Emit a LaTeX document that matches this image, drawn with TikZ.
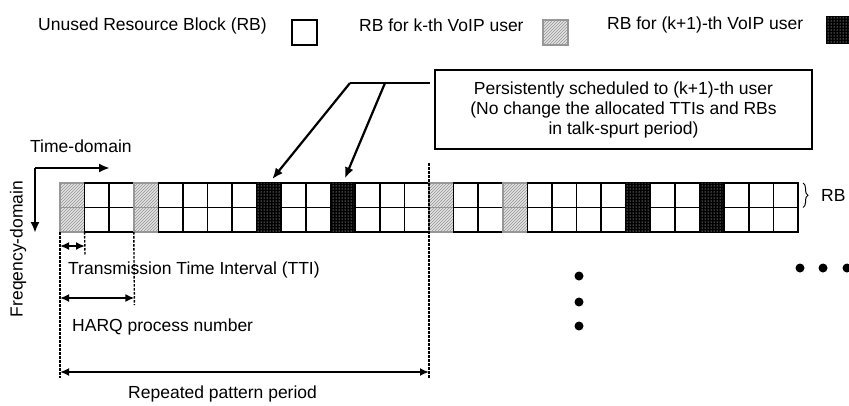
\documentclass[tikz,border=0pt]{standalone}
\usepackage{fontspec}
\setmainfont{Liberation Sans}
\usetikzlibrary{patterns,arrows.meta,decorations.pathreplacing}
\tikzset{
  ucell/.style={draw=black, fill=white, line width=1.6pt, minimum width=24.6pt, minimum height=24.5pt, inner sep=0pt, outer sep=0pt, anchor=north west},
  kcell/.style={ucell, draw=gray!80, fill=gray!22, postaction={pattern=north east lines, pattern color=gray!85}},
  bcell/.style={ucell, fill=black, postaction={pattern=dots, pattern color=white}},
  lbl/.style={inner sep=0pt, anchor=west},
  arr/.style={-{Latex[length=11pt,width=9pt]}, line width=2.2pt},
  darr/.style={{Latex[length=9pt,width=8pt]}-{Latex[length=9pt,width=8pt]}, line width=2.2pt},
  dline/.style={line width=1.4pt, dash pattern=on 2.5pt off 1.5pt},
  dot/.style={circle, fill=black, inner sep=0pt, minimum size=9pt},
}
\begin{document}
\begin{tikzpicture}[x=1pt, y=-1pt, font=\fontsize{17.5}{20}\selectfont]
\useasboundingbox (0,0) rectangle (849,405);
% legend
\node[lbl] (lg1) at (38,26) {Unused Resource Block (RB)};
\node[ucell, line width=1.4pt, minimum width=25pt, minimum height=25pt] (lb1) at (292,20) {};
\node[lbl] (lg2) at (359,25) {RB for k-th VoIP user};
\node[kcell, line width=1.2pt, minimum width=25pt, minimum height=25pt] (lb2) at (543,20) {};
\node[lbl] (lg3) at (607,25) {RB for (k+1)-th VoIP user};
\node[bcell, line width=1.2pt, minimum width=25pt, minimum height=26pt] (lb3) at (827,17) {};
% grid
\foreach \i/\s in {0/kcell,1/ucell,2/ucell,3/kcell,4/ucell,5/ucell,6/ucell,7/ucell,8/bcell,9/ucell,10/ucell,11/bcell,12/ucell,13/ucell,14/ucell,
                   15/kcell,16/ucell,17/ucell,18/kcell,19/ucell,20/ucell,21/ucell,22/ucell,23/bcell,24/ucell,25/ucell,26/bcell,27/ucell,28/ucell,29/ucell}{
  \node[\s] (t\i) at ({60+24.6*\i},183) {};
  \node[\s] (b\i) at ({60+24.6*\i},207.5) {};
}
% brace
\draw[decorate, decoration={brace, amplitude=5pt}, line width=1pt] ([xshift=5pt]t29.north east) -- ([xshift=5pt]t29.south east) coordinate[midway, xshift=6pt] (brm);
\node[lbl] (rb) at (821,195) {RB};
% axes
\coordinate (tdc) at (35,168);
\coordinate (tde) at (110,168);
\coordinate (fde) at (35,233);
\draw[arr] (tdc) -- (tde);
\draw[arr] (tdc) -- (fde);
\node[lbl] (td) at (30,146) {Time-domain};
\node[inner sep=0pt, rotate=90] (fd) at (18,249) {Freqency-domain};
% callout
\node[draw, line width=1.6pt, minimum width=377pt, minimum height=79pt, align=center, inner sep=0pt] (call) at (623.5,109.5)
  {Persistently scheduled to (k+1)-th user\\(No change the allocated TTIs and RBs\\in talk-spurt period)};
\coordinate (lA) at (350,83);
\coordinate (lB) at (385,83);
\coordinate (lE) at (430,83);
\draw[line width=2.2pt] (lE) -- (lA);
\draw[arr, shorten >=5pt] (lA) -- (t8.north);
\draw[arr, shorten >=5pt] (lB) -- (t11.north);
% dashed guides
\coordinate (g0) at (60,378);
\coordinate (g1) at (85,255);
\coordinate (g2) at (134.4,305);
\coordinate (g3t) at (429,163);
\coordinate (g3) at (429,378);
\draw[dline] (b0.south west) -- (g0);
\draw[dline] (b1.south west) -- (g1);
\draw[dline] (b3.south west) -- (g2);
\draw[dline] (g3t) -- (g3);
% measures
\coordinate (m1a) at (60,246);
\coordinate (m1b) at (85,246);
\coordinate (m2a) at (60,298);
\coordinate (m2b) at (134.4,298);
\coordinate (m3a) at (60,372);
\coordinate (m3b) at (429,372);
\draw[darr] (m1a) -- (m1b);
\draw[darr] (m2a) -- (m2b);
\draw[darr] (m3a) -- (m3b);
\node[lbl] (tti) at (68,270) {Transmission Time Interval (TTI)};
\node[lbl] (harq) at (72,327) {HARQ process number};
\node[lbl] (rep) at (128,394) {Repeated pattern period};
% dots
\node[dot] (v1) at (579,276) {};
\node[dot] (v2) at (579,302) {};
\node[dot] (v3) at (579,326) {};
\node[dot] (h1) at (800,268) {};
\node[dot] (h2) at (823,268) {};
\node[dot] (h3) at (847,268) {};
\end{tikzpicture}
\end{document}
